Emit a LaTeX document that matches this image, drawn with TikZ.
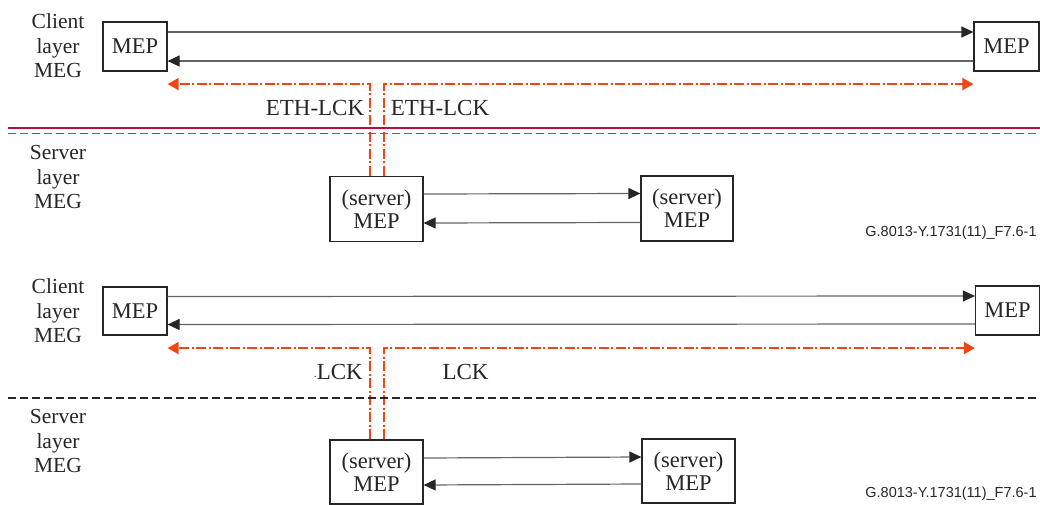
\documentclass[tikz,border=0pt]{standalone}
\usepackage{fontspec}
\setmainfont{Liberation Serif}
\setsansfont{Liberation Sans}
\usetikzlibrary{arrows.meta}
\definecolor{lckcol}{RGB}{240,70,20}
\definecolor{redline}{RGB}{180,16,56}
\definecolor{linegray}{RGB}{100,100,100}
\begin{document}
\begin{tikzpicture}[x=1pt,y=-1pt,
  mep/.style={draw=black!85,line width=1.2pt,inner sep=0pt,align=center,
    font=\fontsize{22.5}{23}\selectfont,text=black!85},
  lbl/.style={align=center,inner sep=0pt,font=\fontsize{21.5}{24.5}\selectfont,text=black!85},
  lcklbl/.style={inner sep=0pt,font=\fontsize{23}{24}\selectfont,text=black!85},
  sig/.style={draw=linegray,line width=1.2pt,-{Triangle[length=12pt,width=11pt,color=black!85]}},
  lck/.style={color=lckcol,line width=1.6pt,dash pattern=on 10pt off 2.5pt on 2pt off 2.5pt,
    -{Triangle[length=11pt,width=12pt]}},
  fig/.style={inner sep=0pt,font=\sffamily\fontsize{14.5}{16}\selectfont,text=black!85}]
\useasboundingbox (0,0) rectangle (1040,505);

% ---------- top figure ----------
\node[lbl] (tcl) at (58,46) {Client\\layer\\MEG};
\node[lbl] (tsl) at (58,177) {Server\\layer\\MEG};
\node[mep,minimum width=64pt,minimum height=49pt] (cL) at (135,46.5) {MEP};
\node[mep,minimum width=65pt,minimum height=49pt] (cR) at (1006.5,46.5) {MEP};
\node[mep,minimum width=93pt,minimum height=65pt] (sA) at (376.5,209) {(server)\\MEP};
\node[mep,minimum width=92pt,minimum height=65pt] (sB) at (687,208.5) {(server)\\MEP};

\draw[sig] ([yshift=14.5pt]cL.east) -- ([yshift=14.5pt]cR.west);
\draw[sig] ([yshift=-14.5pt]cR.west) -- ([yshift=-14.5pt]cL.east);
\draw[sig] ([yshift=15pt]sA.east) -- ([yshift=15pt]sB.west);
\draw[sig] ([yshift=-14pt]sB.west) -- ([yshift=-14pt]sA.east);

\draw[lck] ([xshift=-6.5pt]sA.north) |- ([yshift=-12.5pt]cL.south east);
\draw[lck] ([xshift=7.5pt]sA.north) |- ([yshift=-12.5pt]cR.south west);

\node[lcklbl] (tl1) at (315,108) {ETH-LCK};
\node[lcklbl] (tl2) at (440,108) {ETH-LCK};

\coordinate (rl1) at (8,128);
\coordinate (rl2) at (1040,128);
\draw[redline,line width=1.8pt] (rl1) -- (rl2);
\coordinate (dl1) at (8,133.5);
\coordinate (dl2) at (1040,133.5);
\draw[linegray,line width=1.1pt,dash pattern=on 8pt off 4pt] (dl1) -- (dl2);

\node[fig] (tf) at (951,233) {G.8013-Y.1731(11)\_F7.6-1};

% ---------- bottom figure ----------
\node[lbl] (bcl) at (58,311) {Client\\layer\\MEG};
\node[lbl] (bsl) at (58,441) {Server\\layer\\MEG};
\node[mep,minimum width=64pt,minimum height=48pt] (cL2) at (135,311) {MEP};
\node[mep,minimum width=64pt,minimum height=49pt] (cR2) at (1007.5,310.5) {MEP};
\node[mep,minimum width=93pt,minimum height=64pt] (sA2) at (376.5,472) {(server)\\MEP};
\node[mep,minimum width=93pt,minimum height=64pt] (sB2) at (688.5,471) {(server)\\MEP};

\draw[sig] ([yshift=14.5pt]cL2.east) -- ([yshift=14.5pt]cR2.west);
\draw[sig] ([yshift=-13.5pt]cR2.west) -- ([yshift=-13.5pt]cL2.east);
\draw[sig] ([yshift=14pt]sA2.east) -- ([yshift=14pt]sB2.west);
\draw[sig] ([yshift=-13pt]sB2.west) -- ([yshift=-13pt]sA2.east);

\draw[lck] ([xshift=-6.5pt]sA2.north) |- ([yshift=-12.5pt]cL2.south east);
\draw[lck] ([xshift=7.5pt]sA2.north) |- ([yshift=-12.5pt]cR2.south west);

\node[lcklbl,anchor=east] (bl1) at (363,372) {{\fontsize{12}{12}\selectfont\raisebox{2pt}{.}}LCK};
\node[lcklbl] (bl2) at (465.5,372) {LCK};

\coordinate (bd1) at (8,398);
\coordinate (bd2) at (1040,398);
\draw[black!85,line width=1.1pt,dash pattern=on 8pt off 4pt] (bd1) -- (bd2);

\node[fig] (bf) at (951,494) {G.8013-Y.1731(11)\_F7.6-1};
\end{tikzpicture}
\end{document}
